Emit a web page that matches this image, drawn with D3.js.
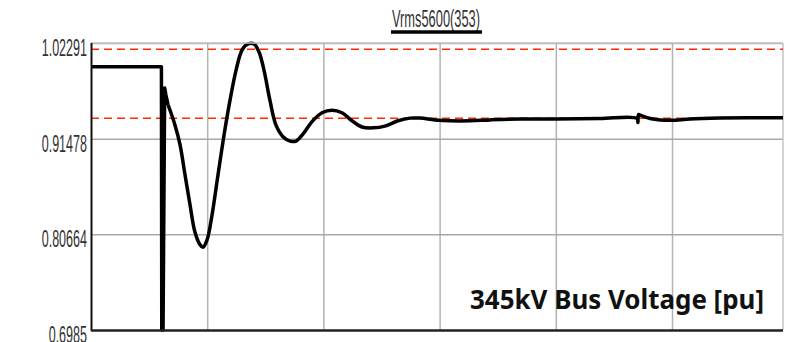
<!DOCTYPE html>
<html>
<head>
<meta charset="utf-8">
<script src="https://cdn.jsdelivr.net/npm/d3@7"></script>
<style>
  html, body { margin: 0; padding: 0; background: #fff; }
  svg { display: block; }
</style>
</head>
<body>
<div id="chart"></div>
<script>
// series: time [s] / voltage [pu]
const seriesName = "Vrms5600(353)";
const panelLabel = "345kV Bus Voltage [pu]";
const timeVals = [0, 0.606, 0.609, 0.620, 0.634, 0.645, 0.663, 0.680, 0.723, 0.766, 0.809, 0.852, 0.895, 0.938, 0.964, 0.998,
  1.041, 1.093, 1.145, 1.196, 1.248, 1.300, 1.351, 1.403, 1.446, 1.489, 1.540, 1.592, 1.652, 1.713, 1.764, 1.824,
  1.902, 1.988, 2.074, 2.160, 2.246, 2.332, 2.427, 2.530, 2.642, 2.745, 2.831, 2.960, 3.090, 3.262, 3.434, 3.692,
  4.002, 4.380, 4.699, 4.707, 4.712, 4.733, 4.811, 4.897, 5.000, 5.155, 5.413, 5.955];
const voltVals = [0.9961, 0.9961, 0.6985, 0.6985, 0.9720, 0.9640, 0.9530, 0.9470, 0.9300, 0.9080, 0.8740, 0.8400, 0.8090, 0.7950, 0.7920, 0.8000,
  0.8280, 0.8740, 0.9190, 0.9580, 0.9920, 1.0150, 1.0218, 1.0218, 1.0127, 0.9920, 0.9580, 0.9300, 0.9170, 0.9120, 0.9120, 0.9200,
  0.9340, 0.9440, 0.9470, 0.9440, 0.9350, 0.9280, 0.9270, 0.9290, 0.9350, 0.9380, 0.9380, 0.9360, 0.9350, 0.9350, 0.9360, 0.9370,
  0.9370, 0.9376, 0.9376, 0.9330, 0.9420, 0.9410, 0.9376, 0.9360, 0.9355, 0.9370, 0.9380, 0.9385];
const yTicks = [0.6985, 0.80664, 0.91478, 1.02291];
const yTickLabels = ["0.6985", "0.80664", "0.91478", "1.02291"];
const xGridTicks = [1, 2, 3, 4, 5];
const limitLines = [1.0158, 0.9378];
const faultEnd = 6; // index where the fault switching part ends

const W = 785, H = 342;
const margin = { left: 91, right: 2, top: 43, bottom: 12 };
const innerW = W - margin.left - margin.right;
const innerH = H - margin.top - margin.bottom;

const x = d3.scaleLinear().domain([0, 5.955]).range([0, innerW]);
const y = d3.scaleLinear().domain([0.6985, 1.02291]).range([innerH, 0]);

const svg = d3.select("#chart").append("svg")
  .attr("width", W).attr("height", H)
  .style("font-family", "'Liberation Sans', Arial, sans-serif");

const g = svg.append("g").attr("transform", `translate(${margin.left},${margin.top})`);

// vertical grid
g.append("g")
  .attr("transform", `translate(0,${innerH})`)
  .call(d3.axisBottom(x).tickValues(xGridTicks).tickSize(-innerH).tickFormat(""))
  .call(a => a.select(".domain").remove())
  .call(a => a.selectAll("line").attr("stroke", "#b4b4b4").attr("stroke-width", 1.5));

// horizontal grid
g.append("g")
  .call(d3.axisLeft(y).tickValues(yTicks.slice(1)).tickSize(-innerW).tickFormat(""))
  .call(a => a.select(".domain").remove())
  .call(a => a.selectAll("line").attr("stroke", "#a8a8a8").attr("stroke-width", 1.5));

// right border
g.append("line")
  .attr("x1", innerW).attr("x2", innerW).attr("y1", 0).attr("y2", innerH)
  .attr("stroke", "#c4c4c4").attr("stroke-width", 1.5);

// y labels (condensed)
const yAxis = g.append("g")
  .call(d3.axisLeft(y).tickValues(yTicks).tickSize(0).tickPadding(4)
    .tickFormat((d, i) => yTickLabels[i]));
yAxis.select(".domain").remove();
yAxis.selectAll("text")
  .attr("font-size", 23)
  .attr("fill", "#333")
  .attr("dy", "0.55em")
  .attr("textLength", function() { return this.getComputedTextLength() * 0.545; })
  .attr("lengthAdjust", "spacingAndGlyphs")
  .attr("font-family", "'Liberation Sans', Arial, sans-serif");

// limit lines
g.selectAll(".limit")
  .data(limitLines)
  .join("line")
  .attr("class", "limit")
  .attr("x1", 0).attr("x2", innerW)
  .attr("y1", d => y(d)).attr("y2", d => y(d))
  .attr("stroke", "#ff2a00")
  .attr("stroke-width", 1.5)
  .attr("stroke-dasharray", "8,5");

// curve: switching part straight, swing part smooth
const pts = timeVals.map((t, i) => [t, voltVals[i]]);
const lineLin = d3.line().x(d => x(d[0])).y(d => y(d[1]));
const lineSmooth = d3.line().x(d => x(d[0])).y(d => y(d[1])).curve(d3.curveCatmullRom.alpha(0.5));
g.append("path")
  .datum(pts.slice(0, faultEnd + 1))
  .attr("fill", "none")
  .attr("stroke", "#000")
  .attr("stroke-width", 3.5)
  .attr("stroke-linejoin", "round")
  .attr("d", lineLin);
g.append("path")
  .datum(pts.slice(faultEnd))
  .attr("fill", "none")
  .attr("stroke", "#000")
  .attr("stroke-width", 3.5)
  .attr("stroke-linejoin", "round")
  .attr("d", lineSmooth);

// top border
g.append("line")
  .attr("x1", 0).attr("x2", innerW).attr("y1", 0).attr("y2", 0)
  .attr("stroke", "#c4c4c4").attr("stroke-width", 1.5);

// axes lines
g.append("line")
  .attr("x1", 0.5).attr("x2", 0.5).attr("y1", 0).attr("y2", innerH + 1)
  .attr("stroke", "#111").attr("stroke-width", 2);
g.append("line")
  .attr("x1", 0).attr("x2", innerW).attr("y1", innerH + 0.5).attr("y2", innerH + 0.5)
  .attr("stroke", "#222").attr("stroke-width", 2.5);

// legend title
svg.append("text")
  .attr("x", 436).attr("y", 27)
  .attr("text-anchor", "middle")
  .attr("font-size", 23)
  .attr("fill", "#333")
  .attr("textLength", 88)
  .attr("lengthAdjust", "spacingAndGlyphs")
  .text(seriesName);
svg.append("line")
  .attr("x1", 391).attr("x2", 482).attr("y1", 32).attr("y2", 32)
  .attr("stroke", "#000").attr("stroke-width", 3.5);

// panel label
svg.append("text")
  .attr("x", 470).attr("y", 309)
  .attr("font-family", "'Noto Sans', 'Open Sans', sans-serif")
  .attr("font-weight", "bold")
  .attr("font-size", 27)
  .attr("fill", "#111")
  .attr("textLength", 294)
  .attr("lengthAdjust", "spacingAndGlyphs")
  .text(panelLabel);
</script>
</body>
</html>
